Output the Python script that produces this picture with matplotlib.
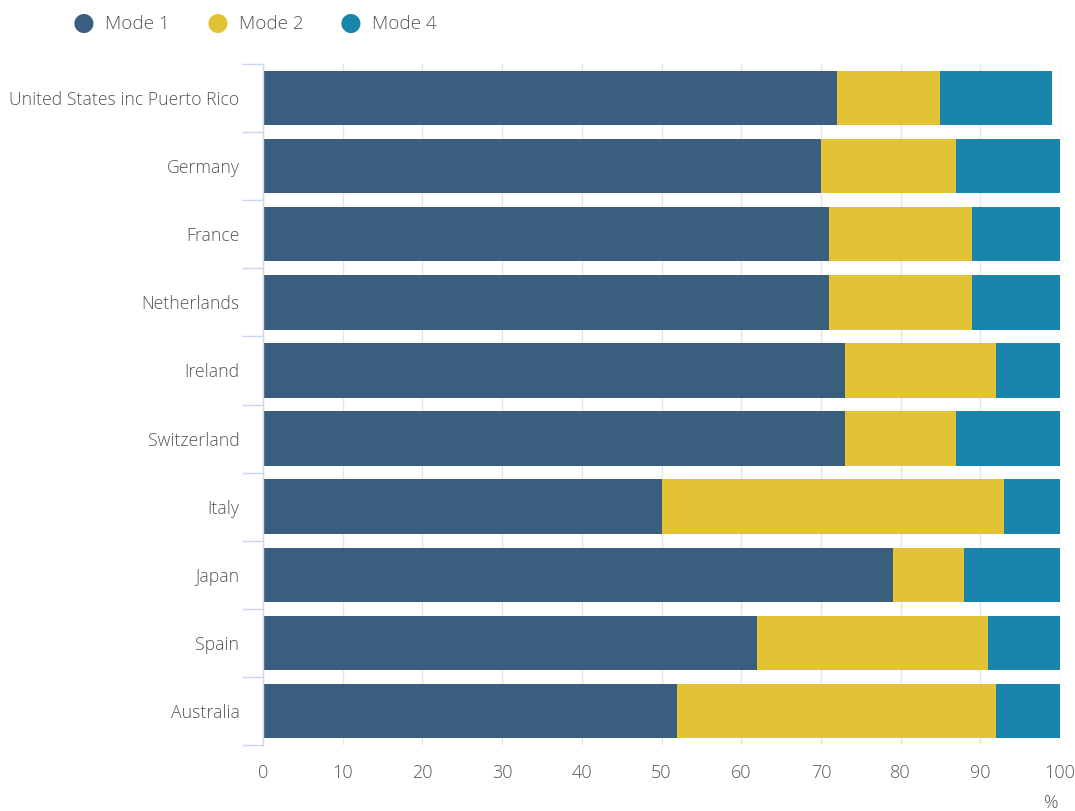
import matplotlib.pyplot as plt
import numpy as np

countries = ['United States inc Puerto Rico', 'Germany', 'France', 'Netherlands',
             'Ireland', 'Switzerland', 'Italy', 'Japan', 'Spain', 'Australia']
mode1 = [72, 70, 71, 71, 73, 73, 50, 79, 62, 52]
mode2 = [13, 17, 18, 18, 19, 14, 43, 9, 29, 40]
mode4 = [14, 13, 11, 11, 8, 13, 7, 12, 9, 8]
series_names = ['Mode 1', 'Mode 2', 'Mode 4']
colors = ['#3a5e7e', '#e3c336', '#1a85ab']

plt.rcParams['font.family'] = ['Open Sans', 'DejaVu Sans']
plt.rcParams['font.weight'] = 'light'

fig = plt.figure(figsize=(10.75, 8.11), dpi=100)
ax = fig.add_axes([263 / 1075, 1 - 745 / 811, 797 / 1075, 681 / 811])

y = np.arange(len(countries))
left = np.zeros(len(countries))
for vals, name, c in zip([mode1, mode2, mode4], series_names, colors):
    ax.barh(y, vals, left=left, height=0.8, color=c, label=name, zorder=2, linewidth=0)
    left += np.array(vals)

ax.set_xlim(0, 100)
ax.set_ylim(len(countries) - 0.5, -0.5)
ax.set_xticks(np.arange(0, 101, 10))
ax.set_yticks(y)
ax.set_yticklabels(countries)
ax.set_yticks(np.arange(-0.5, len(countries)), minor=True)

ax.grid(axis='x', color='black', alpha=0.1, linewidth=1, zorder=3)
for s in ['top', 'right', 'bottom']:
    ax.spines[s].set_visible(False)
ax.spines['left'].set_color('#ccd6eb')
ax.spines['left'].set_linewidth(1)

ax.tick_params(axis='y', which='major', length=0, pad=17, labelsize=12.7, labelcolor='#555555')
ax.tick_params(axis='y', which='minor', length=15, color='#ccd6eb', width=1)
ax.tick_params(axis='x', length=0, pad=14, labelsize=13, labelcolor='#555555')

ax.text(0.998, -0.085, '%', transform=ax.transAxes, ha='right', va='center',
        fontsize=13, color='#555555')

# legend across the top
lx = [84, 218, 351]
for x0, name, c in zip(lx, series_names, colors):
    fig.text(x0 / 1075, 1 - 23 / 811, '\u25cf', color=c, fontsize=18,
             ha='center', va='center', family='DejaVu Sans', fontweight='normal')
    fig.text((x0 + 21) / 1075, 1 - 24 / 811, name, color='#555555', fontsize=13.6,
             ha='left', va='center')

fig.savefig('out.png', dpi=100)
